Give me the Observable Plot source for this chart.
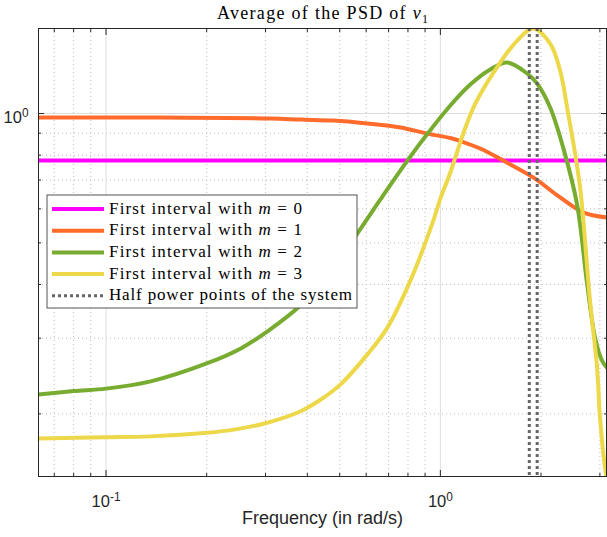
<!DOCTYPE html>
<html><head><meta charset="utf-8">
<script src="https://cdn.jsdelivr.net/npm/d3@7"></script>
<script src="https://cdn.jsdelivr.net/npm/@observablehq/plot@0.6"></script>
<style>body{margin:0;background:#fff}#chart{width:607px;height:537px}</style>
</head><body><div id="chart"></div>
<script>
// ---- data ----
const freqM0 = [0.0628, 3.14];
const psdM0 = [0.777, 0.777];

const freqM1 = [0.0628, 0.136, 0.311, 0.382, 0.479, 0.605, 0.760, 0.915, 1.071, 1.147, 1.316, 1.542, 1.895, 2.281, 2.673, 3.14];
const psdM1  = [0.979, 0.979, 0.974, 0.968, 0.963, 0.948, 0.928, 0.898, 0.877, 0.863, 0.829, 0.777, 0.710, 0.638, 0.589, 0.573];

const freqM2 = [0.0628, 0.08, 0.1, 0.136, 0.2, 0.253, 0.307, 0.382, 0.470, 0.565, 0.671, 0.797, 0.921, 1.071, 1.229, 1.410, 1.585, 1.818, 1.948, 2.130, 2.329, 2.564, 2.747, 2.902, 3.045, 3.14];
const psdM2  = [0.222, 0.226, 0.229, 0.238, 0.262, 0.284, 0.313, 0.358, 0.427, 0.526, 0.641, 0.777, 0.903, 1.044, 1.168, 1.266, 1.314, 1.239, 1.174, 1.033, 0.834, 0.614, 0.402, 0.301, 0.266, 0.257];

const freqM3 = [0.0628, 0.1, 0.136, 0.2, 0.244, 0.300, 0.382, 0.438, 0.503, 0.605, 0.695, 0.814, 0.953, 1.0, 1.071, 1.171, 1.272, 1.510, 1.698, 1.895, 2.130, 2.281, 2.411, 2.529, 2.618, 2.673, 2.803, 2.942, 3.003, 3.108, 3.14];
const psdM3  = [0.1754, 0.1764, 0.1773, 0.1807, 0.1841, 0.1902, 0.2028, 0.2157, 0.2343, 0.2751, 0.318, 0.409, 0.564, 0.634, 0.729, 0.898, 1.055, 1.314, 1.478, 1.577, 1.455, 1.259, 1.0, 0.807, 0.673, 0.573, 0.367, 0.257, 0.196, 0.150, 0.143];

const halfPower = [1.845, 1.948];

const xMajor = [0.1, 1];
const xMinor = [0.07, 0.08, 0.09, 0.2, 0.3, 0.4, 0.5, 0.6, 0.7, 0.8, 0.9, 2, 3];
const yMajor = [1];
const yMinor = [0.2, 0.3, 0.4, 0.5, 0.6, 0.7, 0.8, 0.9];
const xTickLabels = ["10^-1", "10^0"];
const yTickLabels = ["10^0"];

const legendLabels = ["First interval with |m| = 0", "First interval with |m| = 1", "First interval with |m| = 2", "First interval with |m| = 3", "Half power points of the system"];
const colors = ["#FF00FF", "#FF6B2B", "#77AC30", "#EDD84A"];
const titleText = "Average of the PSD of ";
const xLabel = "Frequency (in rad/s)";

// ---- build ----
const rows = (f, v) => f.map((x, i) => ({f: x, v: v[i]}));
const sans = "'Liberation Sans', Arial, Helvetica, sans-serif";
const serif = "'Liberation Serif', 'Times New Roman', serif";
const axisColor = "#262626";

const lineOpts = (c) => ({x: "f", y: "v", stroke: c, strokeWidth: 4, curve: "catmull-rom", clip: true});

const svg = Plot.plot({
  width: 607, height: 537,
  marginLeft: 38, marginRight: 1, marginTop: 28, marginBottom: 61,
  style: {fontFamily: sans, background: "#fff", color: axisColor},
  x: {type: "log", domain: [0.0628, 3.14]},
  y: {type: "log", domain: [0.143, 1.577]},
  marks: [
    Plot.gridX(xMinor, {stroke: "#bdbdbd", strokeOpacity: 1, strokeDasharray: "1,3"}),
    Plot.gridY(yMinor, {stroke: "#bdbdbd", strokeOpacity: 1, strokeDasharray: "1,3"}),
    Plot.gridX(xMajor, {stroke: "#dedede", strokeOpacity: 1, strokeWidth: 1}),
    Plot.gridY(yMajor, {stroke: "#dedede", strokeOpacity: 1, strokeWidth: 1}),
    Plot.line(rows(freqM0, psdM0), lineOpts(colors[0])),
    Plot.line(rows(freqM1, psdM1), lineOpts(colors[1])),
    Plot.line(rows(freqM2, psdM2), lineOpts(colors[2])),
    Plot.line(rows(freqM3, psdM3), lineOpts(colors[3])),
    Plot.ruleX(halfPower, {stroke: "#666", strokeWidth: 3, strokeDasharray: "3,3"}),
    Plot.frame({stroke: axisColor, strokeWidth: 1}),
    // inward ticks
    Plot.axisX(xMajor, {anchor: "bottom", tickSize: -6, tickFormat: () => "", label: null}),
    Plot.axisX(xMinor, {anchor: "bottom", tickSize: -3, tickFormat: () => "", label: null}),
    Plot.axisX(xMajor, {anchor: "top", tickSize: -6, tickFormat: () => "", label: null}),
    Plot.axisX(xMinor, {anchor: "top", tickSize: -3, tickFormat: () => "", label: null}),
    Plot.axisY(yMajor, {anchor: "left", tickSize: -6, tickFormat: () => "", label: null}),
    Plot.axisY(yMinor, {anchor: "left", tickSize: -3, tickFormat: () => "", label: null}),
    Plot.axisY(yMajor, {anchor: "right", tickSize: -6, tickFormat: () => "", label: null}),
    Plot.axisY(yMinor, {anchor: "right", tickSize: -3, tickFormat: () => "", label: null}),
    // tick labels
    Plot.axisX(xMajor, {anchor: "bottom", tickSize: 0, tickPadding: 19, fontSize: 16.5, tickFormat: d => xTickLabels[xMajor.indexOf(d)], label: null}),
    Plot.axisY(yMajor, {anchor: "left", tickSize: 0, tickPadding: 10, dy: 4, fontSize: 16.5, tickFormat: d => yTickLabels[yMajor.indexOf(d)], label: null}),
    Plot.text([xLabel], {text: d => d, frameAnchor: "bottom", dy: 47, fontSize: 18, fill: axisColor})
  ]
});

const root = d3.select(svg);
// superscripts for tick labels
root.selectAll('g[aria-label="x-axis tick label"] text, g[aria-label="y-axis tick label"] text').each(function () {
  const s = this.textContent;
  if (!s.includes("^")) return;
  const [b, e] = s.split("^");
  const t = d3.select(this);
  t.text(null);
  t.append("tspan").text(b);
  t.append("tspan").attr("dy", "-0.5em").attr("font-size", "0.72em").text(e);
});

// title
const tt = root.append("text").attr("x", 322.5).attr("y", 19).attr("text-anchor", "middle")
  .attr("font-family", serif).attr("font-size", 18).attr("fill", "#000")
  .attr("textLength", 211).attr("lengthAdjust", "spacing");
tt.append("tspan").text(titleText);
tt.append("tspan").attr("font-style", "italic").text("v");
tt.append("tspan").attr("dy", 4).attr("font-size", 12).text("1");

// legend
const lg = root.append("g").attr("font-family", serif).attr("font-size", 17).attr("fill", "#000")
  .attr("text-anchor", "start");
lg.append("rect").attr("x", 47).attr("y", 195).attr("width", 310).attr("height", 113)
  .attr("fill", "#fff").attr("stroke", "#555").attr("stroke-width", 1);
legendLabels.forEach((lab, i) => {
  const yl = 209 + 21.7 * i;
  const line = lg.append("line").attr("x1", 52).attr("x2", 104).attr("y1", yl).attr("y2", yl);
  if (i < 4) line.attr("stroke", colors[i]).attr("stroke-width", 4);
  else line.attr("stroke", "#666").attr("stroke-width", 3).attr("stroke-dasharray", "3,3");
  const t = lg.append("text").attr("x", 109).attr("y", yl + 4.5).attr("text-anchor", "start")
    .attr("textLength", i < 4 ? 193 : 243).attr("lengthAdjust", "spacing");
  const parts = lab.split("|");
  t.append("tspan").text(parts[0]);
  if (parts.length > 1) {
    t.append("tspan").attr("font-style", "italic").text(parts[1]);
    t.append("tspan").text(parts[2]);
  }
});

document.getElementById("chart").appendChild(svg);
</script>
</body></html>
